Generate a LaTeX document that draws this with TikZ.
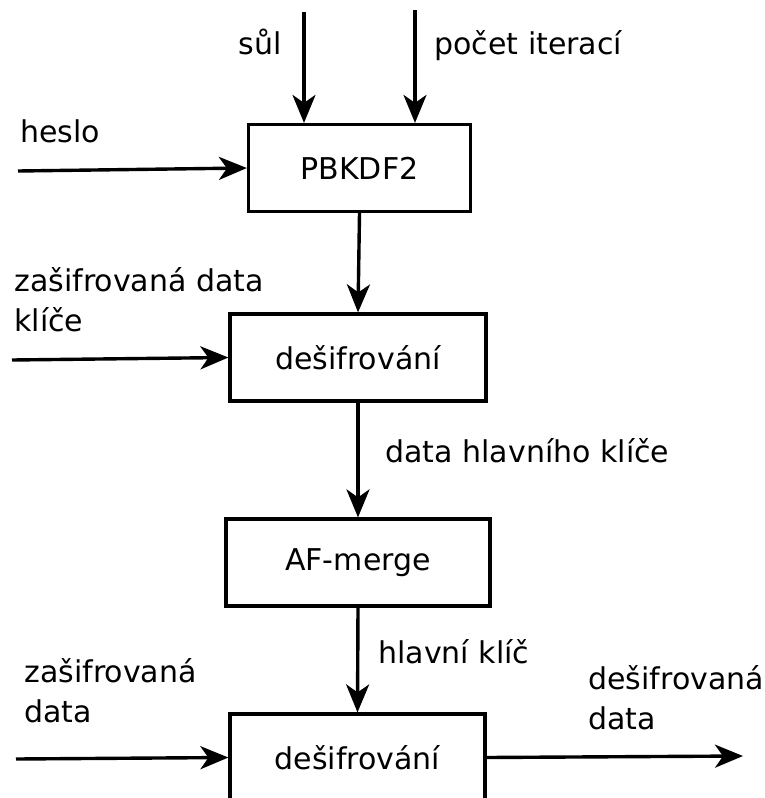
\documentclass[tikz,border=0pt]{standalone}
\usepackage{fontspec}
\setmainfont{DejaVu Sans}
\usetikzlibrary{arrows.meta}

\tikzset{
  blok/.style={draw, line width=1.6pt, minimum width=#1, minimum height=43.5pt, inner sep=0pt},
  tok/.style={line width=1.7pt, -{Stealth[length=14pt,width=11.5pt,inset=4pt]}},
  popis/.style={anchor=base west, inner sep=0pt, align=left, font=\fontsize{15}{20}\selectfont}
}

\begin{document}
\begin{tikzpicture}[x=0.5pt, y=-0.5pt, font=\fontsize{15}{20}\selectfont]
\path[use as bounding box, clip] (0,0) rectangle (765,798);

% bloky
\node[blok=111pt] (pbkdf) at (359.5,168) {PBKDF2};
\node[blok=128pt] (desif1) at (358,357.5) {dešifrování};
\node[blok=132pt] (merge) at (358,562.5) {AF-merge};
\node[blok=127.5pt] (desif2) at (357.5,757.5) {dešifrování};

% volne konce
\coordinate (sul) at (304,12);
\coordinate (iter) at (415,10);
\coordinate (heslo) at (18,171);
\coordinate (zdk) at (12,360);
\coordinate (zd) at (16,759);
\coordinate (vystup) at (743,756);

% sipky
\draw[tok] (sul) -- (sul |- pbkdf.north);
\draw[tok] (iter) -- (iter |- pbkdf.north);
\draw[tok] (heslo) -- (pbkdf.west);
\draw[tok] (pbkdf.south) -- (desif1.north);
\draw[tok] (zdk) -- (desif1.west);
\draw[tok] (desif1.south) -- (merge.north);
\draw[tok] (merge.south) -- (desif2.north);
\draw[tok] (zd) -- (desif2.west);
\draw[tok] (desif2.east) -- (vystup);

% popisky
\node[popis] (lsul) at (238,54) {sůl};
\node[popis] (liter) at (434,54) {počet iterací};
\node[popis] (lheslo) at (20,142) {heslo};
\node[popis] (lzdk) at (14,331) {zašifrovaná data\\klíče};
\node[popis] (ldata) at (385,462) {data hlavního klíče};
\node[popis] (lklic) at (378,663) {hlavní klíč};
\node[popis] (lzd) at (24,722) {zašifrovaná\\data};
\node[popis] (lvys) at (588,729) {dešifrovaná\\data};
\end{tikzpicture}
\end{document}
